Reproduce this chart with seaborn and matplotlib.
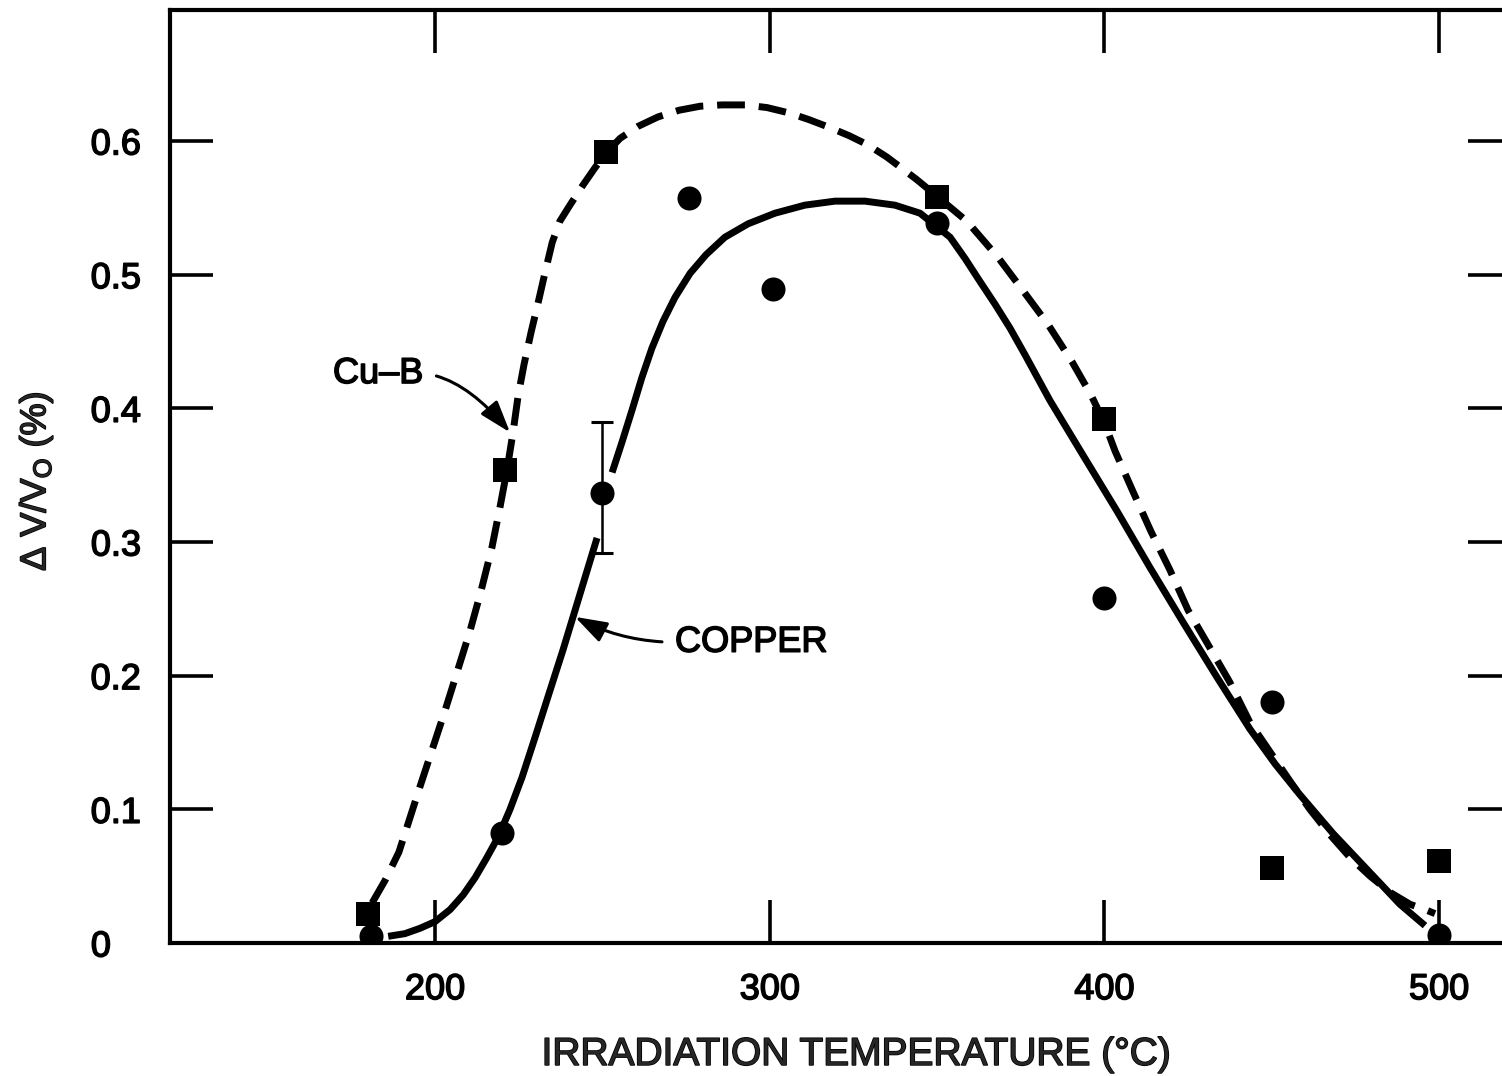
import numpy as np
import pandas as pd
import matplotlib
matplotlib.use("Agg")
import matplotlib.pyplot as plt
import matplotlib.patheffects as pe
import seaborn as sns

# ---------------- data ----------------
copper_T = [181, 220, 250, 276, 301, 350, 400, 450, 500]
copper_dV = [0.005, 0.082, 0.337, 0.557, 0.489, 0.539, 0.258, 0.180, 0.006]

cub_T = [180, 221, 251, 350, 400, 450, 500]
cub_dV = [0.022, 0.354, 0.592, 0.558, 0.392, 0.056, 0.061]

err_T = [250]
err_center = [0.337]
err_low = [0.292]
err_high = [0.390]

# hand-drawn fit curve through the copper points (two pieces, broken at the error bar)
copper_curve_T = [186.0, 191.0, 195.5, 200.0, 204.5, 208.4, 212.0, 215.5, 218.8, 222.4, 226.0,
                  229.9, 234.1, 238.2, 243.3, 248.4,
                  252.9, 255.9, 258.9, 261.8, 264.8, 268.1, 271.7, 276.2, 281.0, 286.6, 293.5,
                  301.6, 310.5, 319.5, 328.5, 337.4, 344.9,
                  353.9, 358.4, 362.8, 367.3, 371.8, 376.3, 383.7, 393.6, 403.8, 413.6, 423.5,
                  433.6, 443.5, 451.0, 458.4, 468.3, 478.5, 488.3, 495.8]
copper_curve_dV = [0.005, 0.007, 0.011, 0.016, 0.025, 0.036, 0.049, 0.064, 0.079, 0.100, 0.124,
                   0.154, 0.187, 0.219, 0.261, 0.303,
                   0.352, 0.375, 0.399, 0.423, 0.445, 0.465, 0.483, 0.501, 0.515, 0.528, 0.538,
                   0.546, 0.552, 0.555, 0.555, 0.552, 0.546,
                   0.528, 0.512, 0.495, 0.478, 0.460, 0.440, 0.406, 0.365, 0.323, 0.281, 0.240,
                   0.199, 0.160, 0.134, 0.111, 0.082, 0.055, 0.029, 0.013]
copper_curve_piece = [0] * 16 + [1] * 36

# hand-drawn fit curve through the Cu-B points
cub_curve_T = [181.2, 185.1, 189.2, 195.5, 203.0, 210.5, 213.7, 217.0, 219.4, 221.5, 223.3, 224.8,
               226.6, 228.7, 230.8, 232.9, 235.0, 237.3, 240.3, 244.2, 247.8, 251.1, 255.3, 260.7,
               266.6, 272.9, 279.2, 285.7, 292.6, 299.2, 305.8, 311.7, 318.0, 323.7, 329.4, 335.0,
               339.8, 344.0, 350.3, 358.9, 368.2, 375.4, 383.1, 390.3, 396.0, 398.7, 401.1, 403.2,
               408.5, 413.9, 419.6, 425.0, 431.5, 437.5, 443.5, 449.5, 455.5, 461.4, 467.4, 473.4,
               479.4, 485.3, 491.3, 495.8, 498.8]
cub_curve_dV = [0.030, 0.047, 0.068, 0.117, 0.174, 0.234, 0.263, 0.296, 0.326, 0.354, 0.382, 0.409,
                0.433, 0.457, 0.479, 0.502, 0.524, 0.540, 0.552, 0.567, 0.580, 0.591, 0.602, 0.611,
                0.618, 0.623, 0.626, 0.627, 0.627, 0.625, 0.621, 0.616, 0.610, 0.604, 0.597, 0.588,
                0.579, 0.571, 0.558, 0.540, 0.513, 0.489, 0.463, 0.435, 0.410, 0.396, 0.382, 0.368,
                0.338, 0.308, 0.279, 0.249, 0.221, 0.195, 0.165, 0.143, 0.121, 0.100, 0.081, 0.064,
                0.050, 0.038, 0.029, 0.025, 0.022]

x_ticks = [200, 300, 400, 500]
y_ticks = [0, 0.1, 0.2, 0.3, 0.4, 0.5, 0.6]
y_tick_labels = ["0   ", "0.1", "0.2", "0.3", "0.4", "0.5", "0.6"]

# ---------------- style ----------------
sns.set_theme(style="white")
plt.rcParams["font.family"] = ["Liberation Sans", "DejaVu Sans"]
plt.rcParams["mathtext.default"] = "regular"
plt.rcParams["axes.edgecolor"] = "black"
plt.rcParams["axes.linewidth"] = 3
plt.rcParams["text.color"] = "black"
plt.rcParams["xtick.color"] = "black"
plt.rcParams["ytick.color"] = "black"

heavy = [pe.withStroke(linewidth=1.1, foreground="black")]

W, H = 1502, 1076
fig = plt.figure(figsize=(W / 100, H / 100), dpi=100)
ax = fig.add_axes([170 / W, 1 - 943 / H, 1341 / W, 933 / H])

copper_curve = pd.DataFrame({"T": copper_curve_T, "dV": copper_curve_dV, "piece": copper_curve_piece})
cub_curve = pd.DataFrame({"T": cub_curve_T, "dV": cub_curve_dV})

sns.lineplot(data=copper_curve, x="T", y="dV", units="piece", estimator=None, sort=False,
             color="black", linewidth=5, ax=ax, solid_capstyle="butt", solid_joinstyle="round")
sns.lineplot(data=cub_curve, x="T", y="dV", estimator=None, sort=False,
             color="black", linewidth=5, linestyle=(0, (4, 2)), dash_capstyle="butt",
             dash_joinstyle="round", ax=ax)

ax.errorbar(err_T, err_center,
            yerr=[[c - l for c, l in zip(err_center, err_low)],
                  [h - c for c, h in zip(err_center, err_high)]],
            fmt="none", ecolor="black", elinewidth=1.8, capsize=8, capthick=2.2, zorder=4)

sns.scatterplot(x=copper_T, y=copper_dV, marker="o", s=300, color="black", linewidth=0,
                ax=ax, zorder=5)
sns.scatterplot(x=cub_T, y=cub_dV, marker="s", s=275, color="black", linewidth=0,
                ax=ax, zorder=5)

ax.set_xlim(120.8, 521.5)
ax.set_ylim(0, 0.698)
ax.set_xticks(x_ticks)
ax.set_xticklabels([str(v) for v in x_ticks])
ax.set_yticks(y_ticks)
ax.set_yticklabels(y_tick_labels)
ax.tick_params(direction="in", length=31, width=2.6, bottom=True, left=True, top=True, right=True,
               labelsize=26, pad=21, colors="black")
for lab in ax.get_xticklabels() + ax.get_yticklabels():
    lab.set_path_effects(heavy)

ax.set_xlabel("IRRADIATION TEMPERATURE (°C)", fontsize=28)
ax.xaxis.set_label_coords(0.5116, -0.12)
ax.xaxis.label.set_va("center")
ax.xaxis.label.set_path_effects(heavy)
ax.set_ylabel("Δ V/V$_\\mathregular{O}$ (%)", fontsize=26)
ax.yaxis.set_label_coords(-0.0999, 0.495)
ax.yaxis.label.set_va("center")
ax.yaxis.label.set_path_effects(heavy)

t1 = ax.annotate("Cu–B", xy=(222.4, 0.382), xytext=(169.5, 0.426), ha="left", va="center",
                 fontsize=26,
                 arrowprops=dict(arrowstyle="-|>,head_length=0.75,head_width=0.25",
                                 connectionstyle="angle3,angleA=-5,angleB=-50",
                                 lw=2.2, color="black", relpos=(1.0, 0.5), shrinkA=7, shrinkB=0))
t2 = ax.annotate("COPPER", xy=(241.8, 0.244), xytext=(271.7, 0.225), ha="left", va="center",
                 fontsize=26,
                 arrowprops=dict(arrowstyle="-|>,head_length=0.75,head_width=0.25",
                                 connectionstyle="angle3,angleA=0,angleB=-28",
                                 lw=2.2, color="black", relpos=(0.0, 0.5), shrinkA=7, shrinkB=0))
for t in (t1, t2):
    t.set_path_effects(heavy)

legend = ax.get_legend()
if legend is not None:
    legend.remove()

fig.savefig("out.png", dpi=100)
